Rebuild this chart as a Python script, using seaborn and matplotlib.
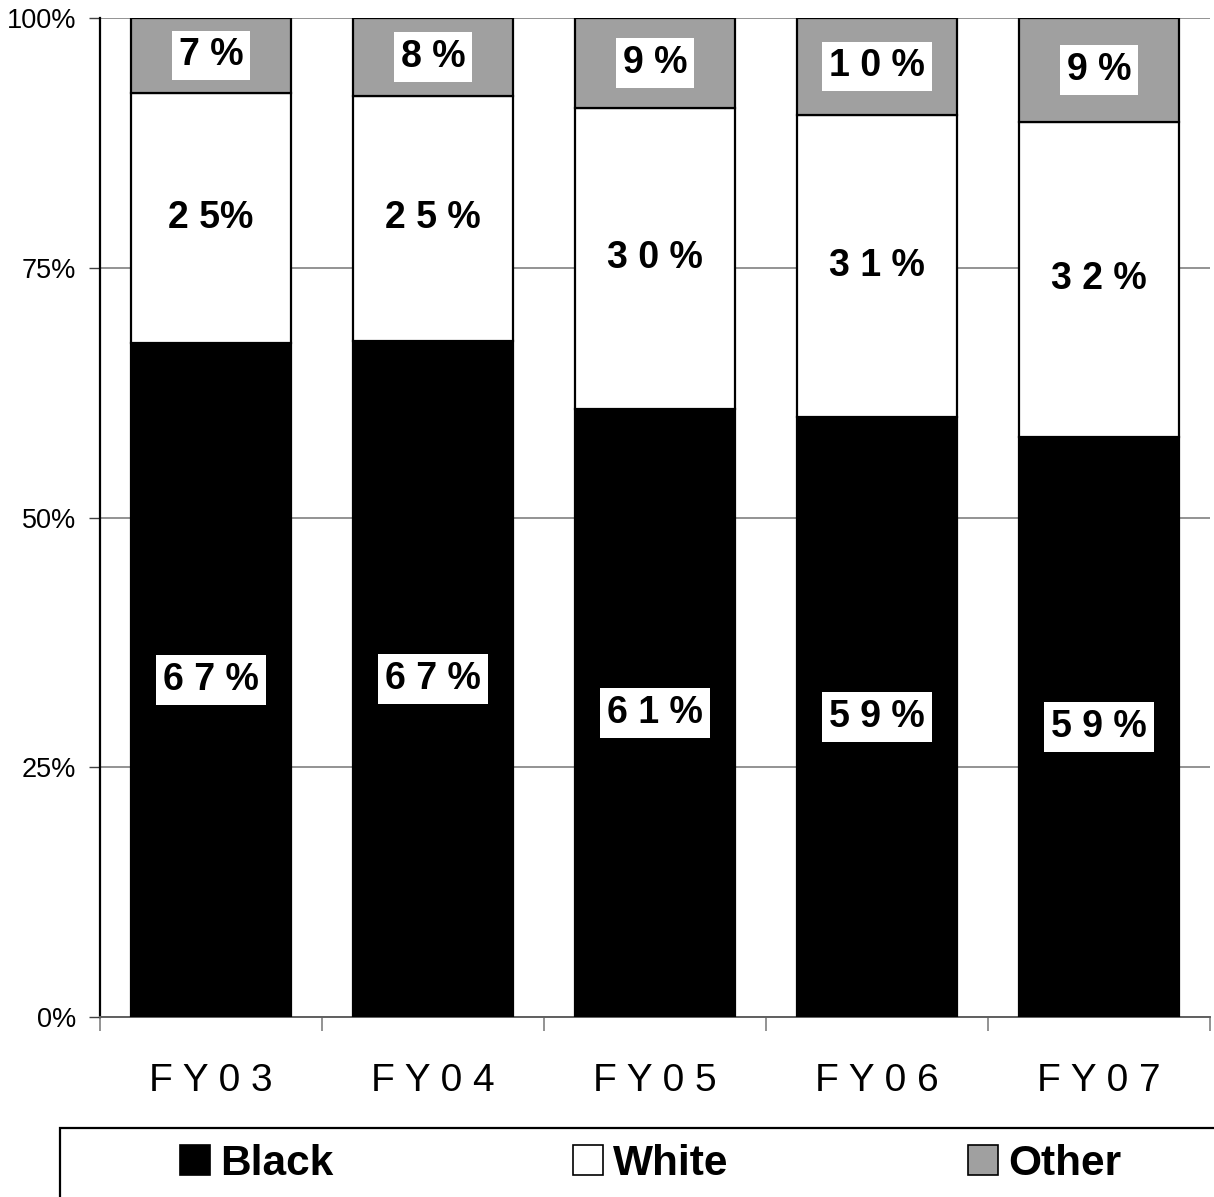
import matplotlib
matplotlib.use("Agg")
import matplotlib.pyplot as plt
import seaborn as sns
import numpy as np
from matplotlib.lines import Line2D
from matplotlib.patches import Rectangle
from matplotlib.ticker import FixedLocator, FuncFormatter

# ---- data ----
years = ["F Y 0 3", "F Y 0 4", "F Y 0 5", "F Y 0 6", "F Y 0 7"]
black = [67.5, 67.7, 60.9, 60.1, 58.1]
white = [25.0, 24.5, 30.1, 30.2, 31.5]
other = [7.5, 7.8, 9.0, 9.7, 10.4]
black_labels = ["6 7 %", "6 7 %", "6 1 %", "5 9 %", "5 9 %"]
white_labels = ["2 5%", "2 5 %", "3 0 %", "3 1 %", "3 2 %"]
other_labels = ["7 %", "8 %", "9 %", "1 0 %", "9 %"]
series_names = ["Black", "White", "Other"]
y_ticks = [0, 25, 50, 75, 100]

sns.set_theme(style="white")
plt.rcParams["font.family"] = ["Liberation Sans", "DejaVu Sans"]
plt.rcParams["text.color"] = "black"
plt.rcParams["axes.labelcolor"] = "black"
plt.rcParams["xtick.color"] = "black"
plt.rcParams["ytick.color"] = "black"

W, H = 1214, 1197
fig = plt.figure(figsize=(W / 100, H / 100), dpi=100)
ax = fig.add_axes([100 / W, 1 - 1017 / H, 1110 / W, 999 / H])

colors = {"Black": "#000000", "White": "#ffffff", "Other": "#a0a0a0"}
bw = 0.72
bkw = dict(width=bw, saturation=1, edgecolor="black", linewidth=1.6, ax=ax, zorder=3)

bottom_white = np.array(black)
bottom_other = np.array(black) + np.array(white)

sns.barplot(x=years, y=black, color=colors["Black"], **bkw)
sns.barplot(x=years, y=white, bottom=bottom_white, color=colors["White"], **bkw)
sns.barplot(x=years, y=other, bottom=bottom_other, color=colors["Other"], **bkw)

box = dict(boxstyle="square,pad=0.18", facecolor="white", edgecolor="none")
lab_kw = dict(label_type="center", fontsize=27, fontweight="bold", color="black")
ax.bar_label(ax.containers[0], labels=black_labels, bbox=box, **lab_kw)
ax.bar_label(ax.containers[1], labels=white_labels, **lab_kw)
ax.bar_label(ax.containers[2], labels=other_labels, bbox=box, **lab_kw)

ax.set_xlim(-0.5, 4.5)
ax.set_ylim(0, 100)

# y axis
ax.yaxis.set_major_locator(FixedLocator(y_ticks))
ax.yaxis.set_major_formatter(FuncFormatter(lambda v, p: f"{int(v)}%"))
ax.tick_params(axis="y", which="major", left=True, length=8, width=1, color="#404040",
               labelsize=19.5, pad=9, labelcolor="black")
ax.grid(axis="y", color="#808080", linewidth=1.2, zorder=0)
ax.grid(axis="x", visible=False)

# x axis: boundary ticks + centered labels
ax.xaxis.set_major_locator(FixedLocator(np.arange(-0.5, 5.0, 1.0)))
ax.xaxis.set_major_formatter(FuncFormatter(lambda v, p: ""))
ax.xaxis.set_minor_locator(FixedLocator(np.arange(5)))
ax.xaxis.set_minor_formatter(FuncFormatter(lambda v, p: years[int(round(v))]))
ax.tick_params(axis="x", which="major", bottom=True, length=10, width=1.2, color="#808080")
ax.tick_params(axis="x", which="minor", bottom=True, length=0, labelsize=28, pad=33,
               labelcolor="black")
ax.set_xlabel("")
ax.set_ylabel("")

for s in ["top", "right"]:
    ax.spines[s].set_visible(False)
ax.spines["left"].set_color("black")
ax.spines["left"].set_linewidth(1.6)
ax.spines["bottom"].set_color("#606060")
ax.spines["bottom"].set_linewidth(1.4)

# legend
handles = [
    Line2D([], [], linestyle="none", marker="s", markersize=21, markerfacecolor=colors[n],
           markeredgecolor="black", markeredgewidth=1.2)
    for n in series_names
]
fig.patches.append(Rectangle((60 / W, -0.2), 2.0, (1197 - 1128) / H + 0.2,
                             transform=fig.transFigure, facecolor="white",
                             edgecolor="black", linewidth=1.6, zorder=0))
fig.legend(handles, series_names, loc="center left",
           bbox_to_anchor=(178 / W, 1 - 1164 / H), ncol=3, frameon=False,
           prop=dict(size=30.5, weight="bold"), labelcolor="black",
           handlelength=0.8, handletextpad=0.2,
           columnspacing=5.6, borderpad=0, borderaxespad=0)

fig.savefig("out.png", dpi=100)
